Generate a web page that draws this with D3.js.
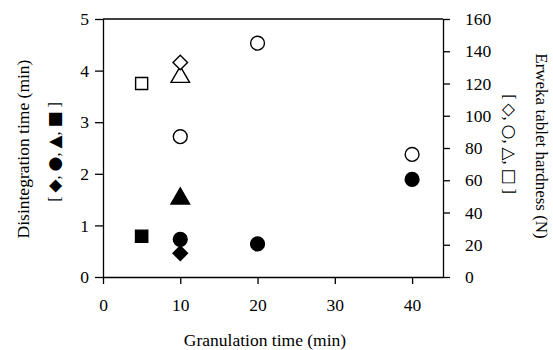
<!DOCTYPE html>
<html>
<head>
<meta charset="utf-8">
<script src="https://cdn.jsdelivr.net/npm/d3@7"></script>
<style>
  body { margin: 0; background: #fff; }
</style>
</head>
<body>
<svg id="chart" width="553" height="350"></svg>
<script>
// disintegration time (min), left axis, filled symbols
var disSquare = [{t: 5, v: 0.79}];
var disCircle = [{t: 10, v: 0.73}, {t: 20, v: 0.64}, {t: 40, v: 1.89}];
var disTriangle = [{t: 10, v: 1.52}];
var disDiamond = [{t: 10, v: 0.46}];

// hardness (N), right axis, open symbols
var hardSquare = [{t: 5, v: 120}];
var hardCircle = [{t: 10, v: 87}, {t: 20, v: 145}, {t: 40, v: 76}];
var hardTriangle = [{t: 10, v: 124}];
var hardDiamond = [{t: 10, v: 133}];

var xTicks = [0, 10, 20, 30, 40];
var yLeftTicks = [0, 1, 2, 3, 4, 5];
var yRightTicks = [0, 20, 40, 60, 80, 100, 120, 140, 160];

var serif = "'Liberation Serif', 'DejaVu Serif', serif";
var shapes = "'DejaVu Sans', sans-serif";

var margin = {top: 19, right: 110, bottom: 73, left: 103},
    width = 553 - margin.left - margin.right,
    height = 350 - margin.top - margin.bottom;

var svg = d3.select("#chart")
  .append("g")
    .attr("transform", "translate(" + margin.left + "," + margin.top + ")");

var x = d3.scaleLinear().domain([0, 44]).range([0, width]);
var yL = d3.scaleLinear().domain([0, 5]).range([height, 0]);
var yR = d3.scaleLinear().domain([0, 160]).range([height, 0]);

// frame top line
svg.append("line")
  .attr("x1", 0).attr("x2", width).attr("y1", 0).attr("y2", 0)
  .attr("stroke", "#000").attr("stroke-width", 1.3);

function styleAxis(g) {
  g.selectAll("path, line").attr("stroke", "#000").attr("stroke-width", 1.3);
  g.selectAll("text")
    .style("font-size", "17.5px")
    .style("font-family", serif)
    .attr("fill", "#000");
}

svg.append("g")
  .attr("transform", "translate(0," + height + ")")
  .call(d3.axisBottom(x).tickValues(xTicks).tickFormat(d3.format("d"))
    .tickSize(7).tickSizeOuter(0).tickPadding(15))
  .call(styleAxis);

svg.append("g")
  .call(d3.axisLeft(yL).tickValues(yLeftTicks).tickFormat(d3.format("d"))
    .tickSize(8).tickSizeOuter(0).tickPadding(6))
  .call(styleAxis);

svg.append("g")
  .attr("transform", "translate(" + width + ",0)")
  .call(d3.axisRight(yR).tickValues(yRightTicks).tickFormat(d3.format("d"))
    .tickSize(7).tickSizeOuter(0).tickPadding(15))
  .call(styleAxis);

// square-ish diamond (a square turned 45 degrees)
var squareDiamond = {
  draw: function(ctx, size) {
    var r = Math.sqrt(size / 2);
    ctx.moveTo(0, -r);
    ctx.lineTo(r, 0);
    ctx.lineTo(0, r);
    ctx.lineTo(-r, 0);
    ctx.closePath();
  }
};

// markers
function draw(data, type, size, yScale, filled) {
  svg.selectAll(null)
    .data(data)
    .enter()
    .append("path")
      .attr("d", d3.symbol().type(type).size(size))
      .attr("transform", function(d) {
        return "translate(" + x(d.t) + "," + yScale(d.v) + ")";
      })
      .attr("fill", filled ? "#000" : "#fff")
      .attr("stroke", "#000")
      .attr("stroke-width", 1.4);
}

draw(hardSquare, d3.symbolSquare, 145, yR, false);
draw(hardTriangle, d3.symbolTriangle, 150, yR, false);
draw(hardDiamond, squareDiamond, 105, yR, false);
draw(hardCircle, d3.symbolCircle, 150, yR, false);

draw(disSquare, d3.symbolSquare, 150, yL, true);
draw(disTriangle, d3.symbolTriangle, 150, yL, true);
draw(disDiamond, squareDiamond, 105, yL, true);
draw(disCircle, d3.symbolCircle, 150, yL, true);

function label(t, tx, ty, rot, size) {
  svg.append("text")
    .attr("transform", "translate(" + tx + "," + ty + ")" + (rot ? " rotate(" + rot + ")" : ""))
    .attr("text-anchor", "middle")
    .style("font-size", size + "px")
    .style("font-family", serif)
    .text(t);
}

// bracketed symbol key: brackets and commas in serif, shapes in a font that has them
function keyLabel(syms, tx, ty, rot) {
  var t = svg.append("text")
    .attr("transform", "translate(" + tx + "," + ty + ") rotate(" + rot + ")")
    .attr("text-anchor", "middle")
    .style("font-size", "16px")
    .style("font-family", serif);
  t.append("tspan").text("[ ");
  syms.forEach(function(s, i) {
    t.append("tspan").style("font-family", shapes).style("font-size", "17px").text(s);
    if (i < syms.length - 1) t.append("tspan").text(", ");
  });
  t.append("tspan").text(" ]");
}

label("Granulation time (min)", width / 2 - 8, height + 69, 0, 17.5);
label("Disintegration time (min)", -74, height / 2 + 1, -90, 17.5);
keyLabel(["◆", "●", "▲", "■"], -43, height / 2 + 4, -90);
label("Erweka tablet hardness (N)", width + 93, height / 2 - 2, 90, 17);
keyLabel(["◇", "○", "△", "□"], width + 61, height / 2 - 4, 90);
</script>
</body>
</html>
